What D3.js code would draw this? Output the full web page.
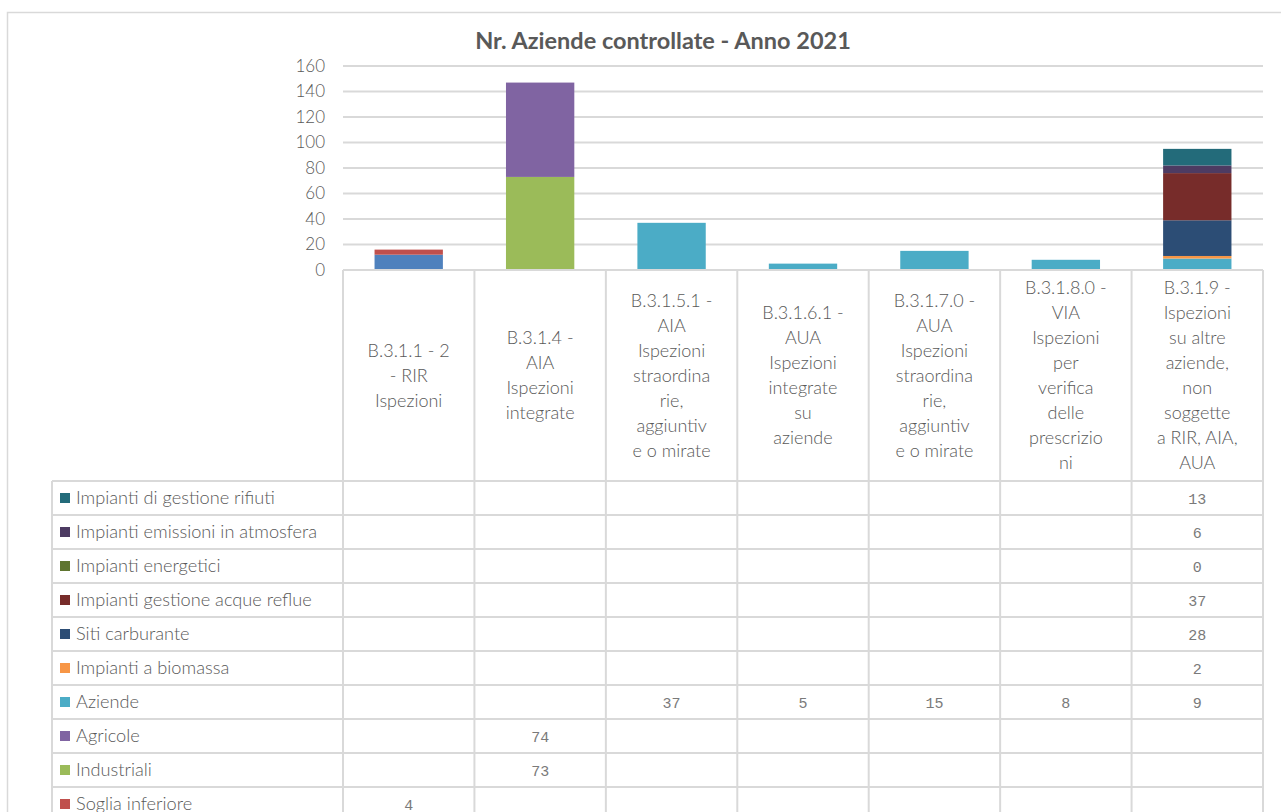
<!DOCTYPE html>
<html>
<head>
<meta charset="utf-8">
<script src="https://cdn.jsdelivr.net/npm/d3@7"></script>
<style>
html, body { margin: 0; padding: 0; background: #fff; overflow: hidden; }
#chart svg { display: block; font-family: Lato, "Open Sans", sans-serif; }
</style>
</head>
<body>
<div id="chart"></div>
<script>
// Categories (header cells of the data table, with Excel-like wrapping)
const categories = [
    "B.3.1.1 - 2 - RIR Ispezioni",
    "B.3.1.4 - AIA Ispezioni integrate",
    "B.3.1.5.1 - AIA Ispezioni straordinarie, aggiuntive o mirate",
    "B.3.1.6.1 - AUA Ispezioni integrate su aziende",
    "B.3.1.7.0 - AUA Ispezioni straordinarie, aggiuntive o mirate",
    "B.3.1.8.0 - VIA Ispezioni per verifica delle prescrizioni",
    "B.3.1.9 - Ispezioni su altre aziende, non soggette a RIR, AIA, AUA"
];
const categoryLines = [
    ["B.3.1.1 - 2", "- RIR", "Ispezioni"],
    ["B.3.1.4 -", "AIA", "Ispezioni", "integrate"],
    ["B.3.1.5.1 -", "AIA", "Ispezioni", "straordina", "rie,", "aggiuntiv", "e o mirate"],
    ["B.3.1.6.1 -", "AUA", "Ispezioni", "integrate", "su", "aziende"],
    ["B.3.1.7.0 -", "AUA", "Ispezioni", "straordina", "rie,", "aggiuntiv", "e o mirate"],
    ["B.3.1.8.0 -", "VIA", "Ispezioni", "per", "verifica", "delle", "prescrizio", "ni"],
    ["B.3.1.9 -", "Ispezioni", "su altre", "aziende,", "non", "soggette", "a RIR, AIA,", "AUA"]
];

// Series, bottom of the stack first
const seriesNames = [
    "Soglia superiore", "Soglia inferiore", "Industriali", "Agricole", "Aziende",
    "Impianti a biomassa", "Siti carburante", "Impianti gestione acque reflue",
    "Impianti energetici", "Impianti emissioni in atmosfera", "Impianti di gestione rifiuti"
];
const seriesColors = [
    "#4f81bd", "#c0504d", "#9bbb59", "#8064a2", "#4bacc6",
    "#f79646", "#2c4d75", "#772c2a", "#5f7530", "#4d3b62", "#236b7a"
];
const sogliaSuperiore = [12, null, null, null, null, null, null];
const sogliaInferiore = [4, null, null, null, null, null, null];
const industriali = [null, 73, null, null, null, null, null];
const agricole = [null, 74, null, null, null, null, null];
const aziende = [null, null, 37, 5, 15, 8, 9];
const biomassa = [null, null, null, null, null, null, 2];
const sitiCarburante = [null, null, null, null, null, null, 28];
const acqueReflue = [null, null, null, null, null, null, 37];
const energetici = [null, null, null, null, null, null, 0];
const emissioni = [null, null, null, null, null, null, 6];
const rifiuti = [null, null, null, null, null, null, 13];
const seriesValues = [sogliaSuperiore, sogliaInferiore, industriali, agricole, aziende,
    biomassa, sitiCarburante, acqueReflue, energetici, emissioni, rifiuti];
const yTicks = [0, 20, 40, 60, 80, 100, 120, 140, 160];

// Layout
const W = 1281, H = 812;
const plot = { left: 343, right: 1263, top: 66, bottom: 270 };
const legendLeft = 52;
const headerBottom = 481;
const rowH = 34;
const textColor = "#595959";
const lineColor = "#d9d9d9";

const svg = d3.select("#chart")
    .append("svg")
    .attr("width", W)
    .attr("height", H);

// Outer chart border (runs past the right and bottom edges)
svg.append("rect")
    .attr("x", 7.5).attr("y", 12.5)
    .attr("width", 1320).attr("height", 900)
    .attr("fill", "#fff")
    .attr("stroke", lineColor)
    .attr("stroke-width", 1.5);

// Title
svg.append("text")
    .attr("x", 663).attr("y", 49)
    .attr("text-anchor", "middle")
    .attr("fill", textColor)
    .style("font-size", "23.5px")
    .style("font-weight", "bold")
    .text("Nr. Aziende controllate - Anno 2021");

// Scales
const x = d3.scaleBand()
    .domain(categories)
    .range([plot.left, plot.right])
    .padding(0);
const barW = x.bandwidth() * 0.52;
const y = d3.scaleLinear()
    .domain([0, 160])
    .range([plot.bottom, plot.top]);

// Gridlines
svg.append("g")
    .selectAll("line")
    .data(yTicks.filter(d => d > 0))
    .join("line")
    .attr("x1", plot.left).attr("x2", plot.right)
    .attr("y1", d => y(d)).attr("y2", d => y(d))
    .attr("stroke", lineColor)
    .attr("stroke-width", 2);

// Y axis
const yAxis = svg.append("g")
    .attr("transform", `translate(${plot.left - 18},0)`)
    .call(d3.axisLeft(y).tickValues(yTicks).tickSize(0).tickPadding(0));
yAxis.select(".domain").remove();
yAxis.selectAll("text")
    .attr("fill", textColor)
    .style("font-family", "Lato, 'Open Sans', sans-serif")
    .style("font-weight", 300)
    .style("font-size", "17px");

// Stacked bars
const rows = categories.map((c, i) => {
    const r = { category: c };
    seriesNames.forEach((s, j) => { r[s] = seriesValues[j][i] || 0; });
    return r;
});
const stacked = d3.stack().keys(seriesNames)(rows);
svg.append("g")
    .selectAll("g")
    .data(stacked)
    .join("g")
    .attr("fill", (d, i) => seriesColors[i])
    .selectAll("rect")
    .data(d => d.filter(p => p[1] > p[0]))
    .join("rect")
    .attr("x", p => x(p.data.category) + (x.bandwidth() - barW) / 2)
    .attr("width", barW)
    .attr("y", p => y(p[1]))
    .attr("height", p => y(p[0]) - y(p[1]));

// Data table
const tableRows = seriesNames.map((s, j) => ({ name: s, color: seriesColors[j], values: seriesValues[j] })).reverse();
const nRows = tableRows.length;
const tableBottom = headerBottom + nRows * rowH;
const grid = svg.append("g")
    .attr("stroke", lineColor)
    .attr("stroke-width", 2);

// baseline / header top
grid.append("line")
    .attr("x1", plot.left).attr("x2", plot.right)
    .attr("y1", plot.bottom).attr("y2", plot.bottom);
// column separators
grid.selectAll(".col")
    .data(categories.concat([null]))
    .join("line")
    .attr("class", "col")
    .attr("x1", (d, i) => plot.left + i * x.bandwidth())
    .attr("x2", (d, i) => plot.left + i * x.bandwidth())
    .attr("y1", plot.bottom).attr("y2", tableBottom);
// row separators
grid.selectAll(".row")
    .data(d3.range(nRows + 1))
    .join("line")
    .attr("class", "row")
    .attr("x1", legendLeft).attr("x2", plot.right)
    .attr("y1", i => headerBottom + i * rowH)
    .attr("y2", i => headerBottom + i * rowH);
grid.append("line")
    .attr("x1", legendLeft).attr("x2", legendLeft)
    .attr("y1", headerBottom).attr("y2", tableBottom);

// Category header labels
const headG = svg.append("g")
    .attr("fill", textColor)
    .style("font-size", "18px")
    .style("font-weight", 300)
    .attr("text-anchor", "middle");
const headMid = (plot.bottom + headerBottom) / 2;
const lineH = 25;
categories.forEach((c, i) => {
    const lines = categoryLines[i];
    const y0 = headMid - (lines.length - 1) * lineH / 2;
    const t = headG.append("text");
    lines.forEach((l, k) => {
        t.append("tspan")
            .attr("x", x(c) + x.bandwidth() / 2)
            .attr("y", y0 + k * lineH)
            .attr("dy", "0.35em")
            .text(l);
    });
});

// Legend rows + values
const rowG = svg.append("g")
    .selectAll("g")
    .data(tableRows)
    .join("g")
    .attr("transform", (d, i) => `translate(0,${headerBottom + i * rowH + rowH / 2})`);
rowG.append("rect")
    .attr("x", 60).attr("y", -5)
    .attr("width", 10).attr("height", 10)
    .attr("fill", d => d.color);
rowG.append("text")
    .attr("x", 76).attr("y", 0)
    .attr("dy", "0.35em")
    .attr("fill", textColor)
    .style("font-size", "18.2px")
    .style("font-weight", 300)
    .text(d => d.name);
rowG.selectAll(".val")
    .data(d => d.values.map((v, i) => ({ v, c: categories[i] })).filter(e => e.v !== null))
    .join("text")
    .attr("class", "val")
    .attr("x", e => x(e.c) + x.bandwidth() / 2)
    .attr("y", 1)
    .attr("dy", "0.35em")
    .attr("text-anchor", "middle")
    .attr("fill", "#7a7a7a")
    .style("font-family", "'Liberation Mono', monospace")
    .style("font-weight", "normal")
    .style("font-size", "15px")
    .text(e => e.v);
</script>
</body>
</html>
